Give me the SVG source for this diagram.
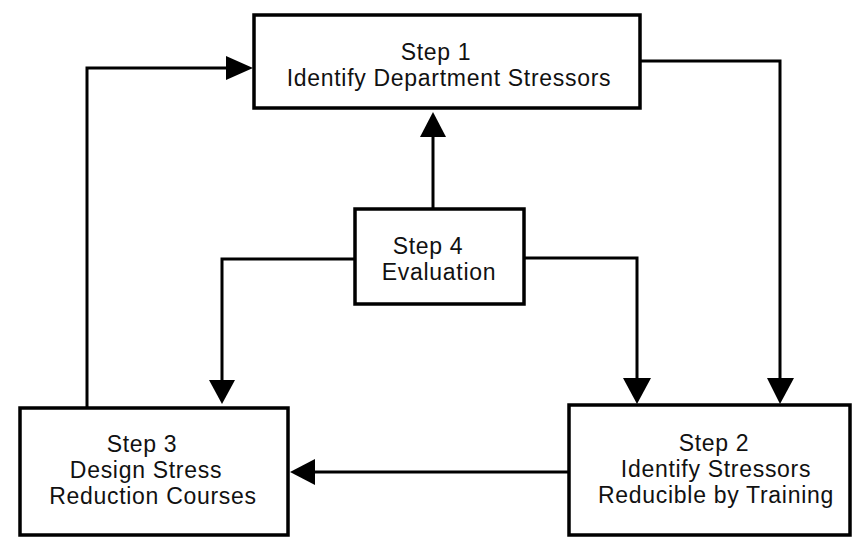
<svg xmlns="http://www.w3.org/2000/svg" width="852" height="537" viewBox="0 0 852 537">
<style>
.box{fill:#fff;stroke:#000;stroke-width:3.5}
.t{font-family:"Liberation Sans",Arial,sans-serif;font-size:23px;letter-spacing:0.7px;fill:#111;text-anchor:middle}
.c{fill:none;stroke:#000;stroke-width:3}
.h{fill:#000;stroke:none}
</style>
<rect width="852" height="537" fill="#fff"/>
<g id="connectors">
<path class="c" d="M87,408 V68 H230"/>
<polygon class="h" points="253,68 226,56 226,80"/>
<path class="c" d="M433,208 V132"/>
<polygon class="h" points="433,112 420,137 446,137"/>
<path class="c" d="M355,259 H222 V384"/>
<polygon class="h" points="222,404 209,380 235,380"/>
<path class="c" d="M524,258 H637 V382"/>
<polygon class="h" points="637,404 623,378 651,378"/>
<path class="c" d="M640,61 H780 V382"/>
<polygon class="h" points="780,404 767,378 794,378"/>
<path class="c" d="M569,472 H312"/>
<polygon class="h" points="290,472 315,459 315,485"/>
</g>
<g id="step1">
<rect class="box" x="254" y="15" width="386" height="93"/>
<text class="t" x="436" y="60">Step 1</text>
<text class="t" x="449" y="86">Identify Department Stressors</text>
</g>
<g id="step4">
<rect class="box" x="355" y="209" width="169" height="95"/>
<text class="t" x="428" y="254">Step 4</text>
<text class="t" x="439" y="280">Evaluation</text>
</g>
<g id="step2">
<rect class="box" x="569" y="405" width="281" height="130"/>
<text class="t" x="714" y="451">Step 2</text>
<text class="t" x="716" y="477">Identify Stressors</text>
<text class="t" x="716" y="503">Reducible by Training</text>
</g>
<g id="step3">
<rect class="box" x="20" y="408" width="268" height="127"/>
<text class="t" x="142" y="452">Step 3</text>
<text class="t" x="146" y="478">Design Stress</text>
<text class="t" x="153" y="504">Reduction Courses</text>
</g>
</svg>
